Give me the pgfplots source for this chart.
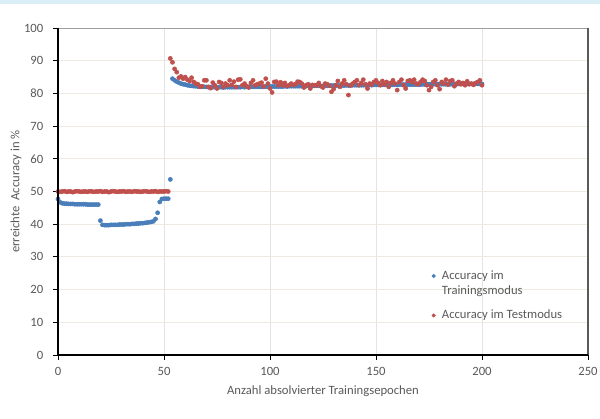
\documentclass[border=0pt]{standalone}
\usepackage{pgfplots}
\pgfplotsset{compat=1.18}
\usepackage{fontspec}
\setmainfont{Carlito}
\definecolor{txtgray}{RGB}{89,89,89}
\definecolor{blueS}{RGB}{74,126,187}
\definecolor{redS}{RGB}{192,80,77}
\definecolor{hgrid}{RGB}{238,234,224}
\definecolor{vgrid}{RGB}{228,228,228}
\definecolor{band}{RGB}{218,238,245}
\begin{document}
\begin{tikzpicture}
\path[use as bounding box] (-43.5pt,-47.25pt) rectangle (406.5pt,266.25pt);
\fill[band] (-43.5pt,263.5pt) rectangle (406.5pt,266.25pt);
\begin{axis}[
  at={(0pt,0pt)}, anchor=south west,
  scale only axis, width=397.5pt, height=245.25pt,
  xmin=0, xmax=250, ymin=0, ymax=100,
  xtick={0,50,...,250}, ytick={0,10,...,100},
  grid=major,
  x grid style={vgrid, line width=0.6pt},
  y grid style={hgrid, line width=0.6pt},
  axis line style={draw=none},
  tick align=outside, tick pos=left,
  major tick length=3.5pt,
  tick style={black, line width=0.6pt},
  ticklabel style={font=\fontsize{9.5}{11}\selectfont, text=txtgray},
  xticklabel style={yshift=-2pt},
  yticklabel style={xshift=-4pt},
  /pgf/number format/assume math mode=true,
  xlabel={Anzahl absolvierter Trainingsepochen},
  ylabel={erreichte\ \ Accuracy in \%},
  label style={font=\fontsize{9.5}{11}\selectfont, text=txtgray},
  xlabel style={yshift=-1pt},
  ylabel style={yshift=-5pt},
  legend style={at={(0.697,0.275)}, anchor=north west, draw=none, fill=none,
    font=\fontsize{9.5}{11.5}\selectfont, text=txtgray, row sep=6pt,
    cells={anchor=west, align=left}},
  legend cell align=left,
]
\addplot[only marks, mark=*, mark size=1.55pt, color=blueS, mark options={draw=blueS, fill=blueS},
  legend image code/.code={\fill[blueS] (0pt,5.8pt) circle (1.3pt);\path (4pt,0pt);}] coordinates {
(0,47.7)(1,46.7)(2,46.4)(3,46.3)(4,46.3)(5,46.2)(6,46.2)(7,46.2)(8,46.1)(9,46.1)(10,46.1)
(11,46.1)(12,46.1)(13,46.1)(14,46.0)(15,46.0)(16,46.0)(17,46.0)(18,46.0)(19,46.0)(20,41.1)
(21,39.8)(22,39.7)(23,39.7)(24,39.7)(25,39.8)(26,39.8)(27,39.8)(28,39.8)(29,39.9)(30,39.9)
(31,39.9)(32,40.0)(33,40.0)(34,40.0)(35,40.1)(36,40.1)(37,40.2)(38,40.2)(39,40.3)(40,40.3)
(41,40.4)(42,40.5)(43,40.6)(44,40.7)(45,40.9)(46,41.6)(47,43.5)(48,46.8)(49,47.7)(50,47.8)
(51,47.8)(52,47.8)(53,53.7)(54,84.5)(55,84.0)(56,83.6)(57,83.3)(58,83.0)(59,82.8)(60,82.7)
(61,82.5)(62,82.4)(63,82.3)(64,82.2)(65,82.2)(66,82.1)(67,82.1)(68,82.0)(69,82.0)(70,82.0)
(71,81.9)(72,81.9)(73,81.9)(74,81.9)(75,81.8)(76,81.9)(77,81.9)(78,81.8)(79,81.9)(80,81.9)
(81,81.9)(82,81.9)(83,81.9)(84,81.9)(85,81.9)(86,81.9)(87,82.0)(88,81.9)(89,82.0)(90,82.0)
(91,82.0)(92,82.0)(93,82.0)(94,82.0)(95,82.0)(96,82.0)(97,82.0)(98,82.1)(99,82.0)(100,82.1)
(101,82.1)(102,82.1)(103,82.1)(104,82.1)(105,82.1)(106,82.1)(107,82.2)(108,82.1)(109,82.2)(110,82.2)
(111,82.2)(112,82.2)(113,82.2)(114,82.2)(115,82.2)(116,82.3)(117,82.2)(118,82.3)(119,82.3)(120,82.3)
(121,82.3)(122,82.3)(123,82.3)(124,82.3)(125,82.3)(126,82.4)(127,82.3)(128,82.4)(129,82.4)(130,82.4)
(131,82.4)(132,82.4)(133,82.4)(134,82.4)(135,82.4)(136,82.5)(137,82.4)(138,82.5)(139,82.5)(140,82.5)
(141,82.5)(142,82.5)(143,82.5)(144,82.5)(145,82.5)(146,82.5)(147,82.6)(148,82.5)(149,82.6)(150,82.6)
(151,82.6)(152,82.6)(153,82.6)(154,82.6)(155,82.6)(156,82.6)(157,82.6)(158,82.6)(159,82.7)(160,82.6)
(161,82.7)(162,82.7)(163,82.7)(164,82.7)(165,82.7)(166,82.7)(167,82.7)(168,82.7)(169,82.7)(170,82.7)
(171,82.7)(172,82.8)(173,82.7)(174,82.8)(175,82.8)(176,82.8)(177,82.8)(178,82.8)(179,82.8)(180,82.8)
(181,82.8)(182,82.8)(183,82.8)(184,82.8)(185,82.8)(186,82.8)(187,82.9)(188,82.8)(189,82.9)(190,82.9)
(191,82.9)(192,82.9)(193,82.9)(194,82.9)(195,82.9)(196,82.9)(197,82.9)(198,82.9)(199,82.9)(200,82.9)
};
\addlegendentry{Accuracy im\\Trainingsmodus}
\addplot[only marks, mark=*, mark size=1.55pt, color=redS, mark options={draw=redS, fill=redS},
  legend image code/.code={\fill[redS] (0pt,0pt) circle (1.3pt);\path (4pt,0pt);}] coordinates {
(0,50.0)(1,49.9)(2,50.0)(3,50.1)(4,49.9)(5,50.0)(6,50.0)(7,49.8)(8,50.0)(9,50.1)(10,50.0)
(11,49.9)(12,50.0)(13,50.0)(14,49.9)(15,50.1)(16,50.0)(17,49.9)(18,50.0)(19,50.0)(20,50.1)
(21,49.9)(22,50.0)(23,50.0)(24,49.8)(25,50.0)(26,50.1)(27,50.0)(28,49.9)(29,50.0)(30,50.0)
(31,50.1)(32,49.9)(33,50.0)(34,50.0)(35,49.9)(36,50.1)(37,50.0)(38,50.0)(39,49.9)(40,50.0)
(41,50.1)(42,50.0)(43,49.9)(44,50.0)(45,50.0)(46,50.1)(47,49.9)(48,50.0)(49,50.0)(50,50.0)
(51,50.1)(52,50.0)(53,90.7)(54,89.5)(55,87.5)(56,86.5)(57,84.8)(58,85.2)(59,84.5)(60,85.0)
(61,84.2)(62,83.8)(63,84.8)(64,83.5)(65,83.0)(66,82.8)(67,82.0)(68,82.2)(69,84.0)(70,84.0)
(71,82.0)(72,81.6)(73,83.3)(74,82.5)(75,81.5)(76,83.5)(77,83.2)(78,82.0)(79,83.0)(80,82.5)
(81,84.0)(82,82.6)(83,83.6)(84,82.0)(85,84.2)(86,84.3)(87,82.5)(88,83.0)(89,82.2)(90,81.8)
(91,83.2)(92,84.0)(93,82.5)(94,82.8)(95,83.0)(96,83.3)(97,82.1)(98,84.5)(99,83.0)(100,81.5)
(101,80.3)(102,83.5)(103,83.6)(104,82.5)(105,83.4)(106,82.5)(107,83.2)(108,82.3)(109,82.5)(110,83.0)
(111,82.6)(112,82.8)(113,83.6)(114,83.5)(115,83.0)(116,81.8)(117,82.5)(118,82.8)(119,81.5)(120,82.6)
(121,82.5)(122,82.5)(123,83.2)(124,82.2)(125,81.8)(126,83.0)(127,82.8)(128,82.3)(129,80.5)(130,81.3)
(131,82.5)(132,83.8)(133,82.0)(134,83.0)(135,84.0)(136,82.8)(137,79.5)(138,82.4)(139,83.0)(140,83.5)
(141,84.0)(142,82.5)(143,83.2)(144,84.2)(145,82.8)(146,81.5)(147,83.0)(148,82.7)(149,83.5)(150,84.0)
(151,83.2)(152,82.5)(153,83.8)(154,82.8)(155,83.5)(156,82.0)(157,83.2)(158,84.0)(159,83.0)(160,81.0)
(161,83.5)(162,84.2)(163,82.5)(164,81.5)(165,83.8)(166,84.0)(167,83.5)(168,84.2)(169,83.0)(170,82.8)
(171,83.5)(172,84.2)(173,83.8)(174,82.5)(175,81.0)(176,82.0)(177,83.5)(178,84.0)(179,82.5)(180,81.3)
(181,83.5)(182,83.0)(183,84.2)(184,82.7)(185,83.8)(186,84.0)(187,82.2)(188,83.0)(189,83.5)(190,82.8)
(191,83.2)(192,82.5)(193,83.7)(194,82.8)(195,83.0)(196,82.6)(197,83.2)(198,83.5)(199,84.0)(200,82.5)
};
\addlegendentry{Accuracy im Testmodus}
\end{axis}
% frame lines of the plot area
\draw[gray!75, line width=0.6pt] (0pt,245.25pt) -- (397.5pt,245.25pt);
\draw[black!65, line width=0.9pt] (397.5pt,0pt) -- (397.5pt,245.25pt);
\draw[black, line width=1.4pt] (0pt,245.25pt) -- (0pt,0pt) -- (397.5pt,0pt);
\end{tikzpicture}
\end{document}
